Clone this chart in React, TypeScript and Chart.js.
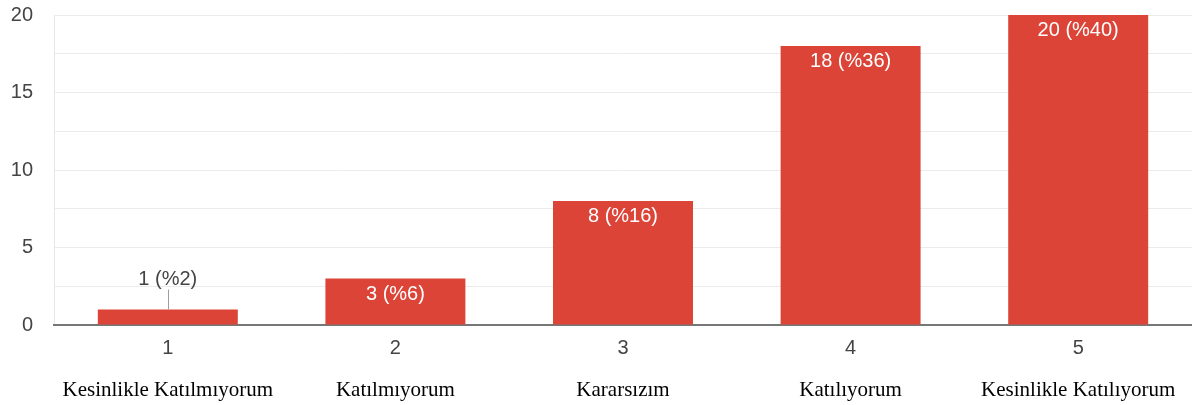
import React, { useEffect, useRef } from "react";
import { Chart, registerables } from "chart.js";

Chart.register(...registerables);

const categories: string[] = ["1", "2", "3", "4", "5"];
const categoryNames: string[] = [
  "Kesinlikle Katılmıyorum",
  "Katılmıyorum",
  "Kararsızım",
  "Katılıyorum",
  "Kesinlikle Katılıyorum",
];
const counts: number[] = [1, 3, 8, 18, 20];
const yTickValues: number[] = [0, 5, 10, 15, 20];

const SANS = "'Liberation Sans', Arial, Helvetica, sans-serif";
const SERIF = "'Liberation Serif', 'Times New Roman', Times, serif";
const BAR_RED = "#db4437";

const total = counts.reduce((a, b) => a + b, 0);
const barLabels = counts.map((v) => `${v} (%${Math.round((v / total) * 100)})`);

const valueLabelPlugin = {
  id: "valueLabels",
  afterDatasetsDraw(chart: any) {
    const ctx = chart.ctx;
    const meta = chart.getDatasetMeta(0);
    ctx.save();
    ctx.font = `20px ${SANS}`;
    ctx.textAlign = "center";
    ctx.textBaseline = "middle";
    meta.data.forEach((bar: any, i: number) => {
      const h = bar.base - bar.y;
      const text = barLabels[i];
      if (h > 35) {
        ctx.fillStyle = "#ffffff";
        ctx.fillText(text, bar.x, bar.y + 15.5);
      } else {
        ctx.strokeStyle = "#9e9e9e";
        ctx.lineWidth = 1;
        ctx.beginPath();
        ctx.moveTo(Math.round(bar.x) + 0.5, bar.y - 20);
        ctx.lineTo(Math.round(bar.x) + 0.5, bar.y);
        ctx.stroke();
        ctx.fillStyle = "#444444";
        ctx.fillText(text, bar.x, bar.y - 30);
      }
    });
    ctx.restore();
  },
};

export default function App() {
  const canvasRef = useRef<HTMLCanvasElement | null>(null);

  useEffect(() => {
    if (!canvasRef.current) return;
    const chart = new Chart(canvasRef.current, {
      type: "bar",
      data: {
        labels: categories,
        datasets: [
          {
            data: counts,
            backgroundColor: BAR_RED,
            borderWidth: 0,
            barPercentage: 0.615,
            categoryPercentage: 1,
            xAxisID: "x",
            yAxisID: "y",
          },
        ],
      },
      options: {
        animation: false,
        responsive: true,
        maintainAspectRatio: false,
        layout: { padding: { top: 15, right: 0, bottom: 0, left: 0 } },
        plugins: {
          legend: { display: false },
          tooltip: { enabled: false },
        },
        scales: {
          y: {
            min: 0,
            max: 20,
            afterBuildTicks: (scale: any) => {
              const t: any[] = [];
              for (let i = 0; i < yTickValues.length; i++) {
                t.push({ value: yTickValues[i] });
                if (i < yTickValues.length - 1) {
                  t.push({ value: (yTickValues[i] + yTickValues[i + 1]) / 2 });
                }
              }
              scale.ticks = t;
            },
            afterFit: (scale: any) => {
              scale.width = 54;
              scale.paddingTop = 0;
              scale.paddingBottom = 0;
            },
            ticks: {
              padding: 21,
              color: "#444444",
              font: { family: SANS, size: 20 },
              callback: (v: any) => (yTickValues.includes(Number(v)) ? String(v) : ""),
            },
            grid: { color: "#ebebeb", drawTicks: false, lineWidth: 1 },
            border: { display: true, color: "#e6e6e6", width: 1 },
          },
          x: {
            type: "category",
            position: "bottom",
            offset: true,
            afterFit: (scale: any) => {
              scale.height = 40;
              scale.paddingLeft = 0;
              scale.paddingRight = 0;
            },
            ticks: {
              padding: 11,
              color: "#444444",
              font: { family: SANS, size: 20 },
              maxRotation: 0,
              autoSkip: false,
            },
            grid: { display: false, drawTicks: false },
            border: { display: true, color: "#777777", width: 2 },
          },
          x2: {
            type: "category",
            position: "bottom",
            labels: categoryNames,
            offset: true,
            afterFit: (scale: any) => {
              scale.height = 40;
              scale.paddingLeft = 0;
              scale.paddingRight = 0;
            },
            ticks: {
              padding: 13,
              color: "#000000",
              font: { family: SERIF, size: 21 },
              maxRotation: 0,
              autoSkip: false,
            },
            grid: { display: false, drawTicks: false },
            border: { display: false },
          },
        },
      },
      plugins: [valueLabelPlugin],
    } as any);
    return () => chart.destroy();
  }, []);

  return (
    <div style={{ position: "absolute", left: 0, top: 0, width: 1192, height: 405, background: "#fff" }}>
      <canvas ref={canvasRef} />
    </div>
  );
}
